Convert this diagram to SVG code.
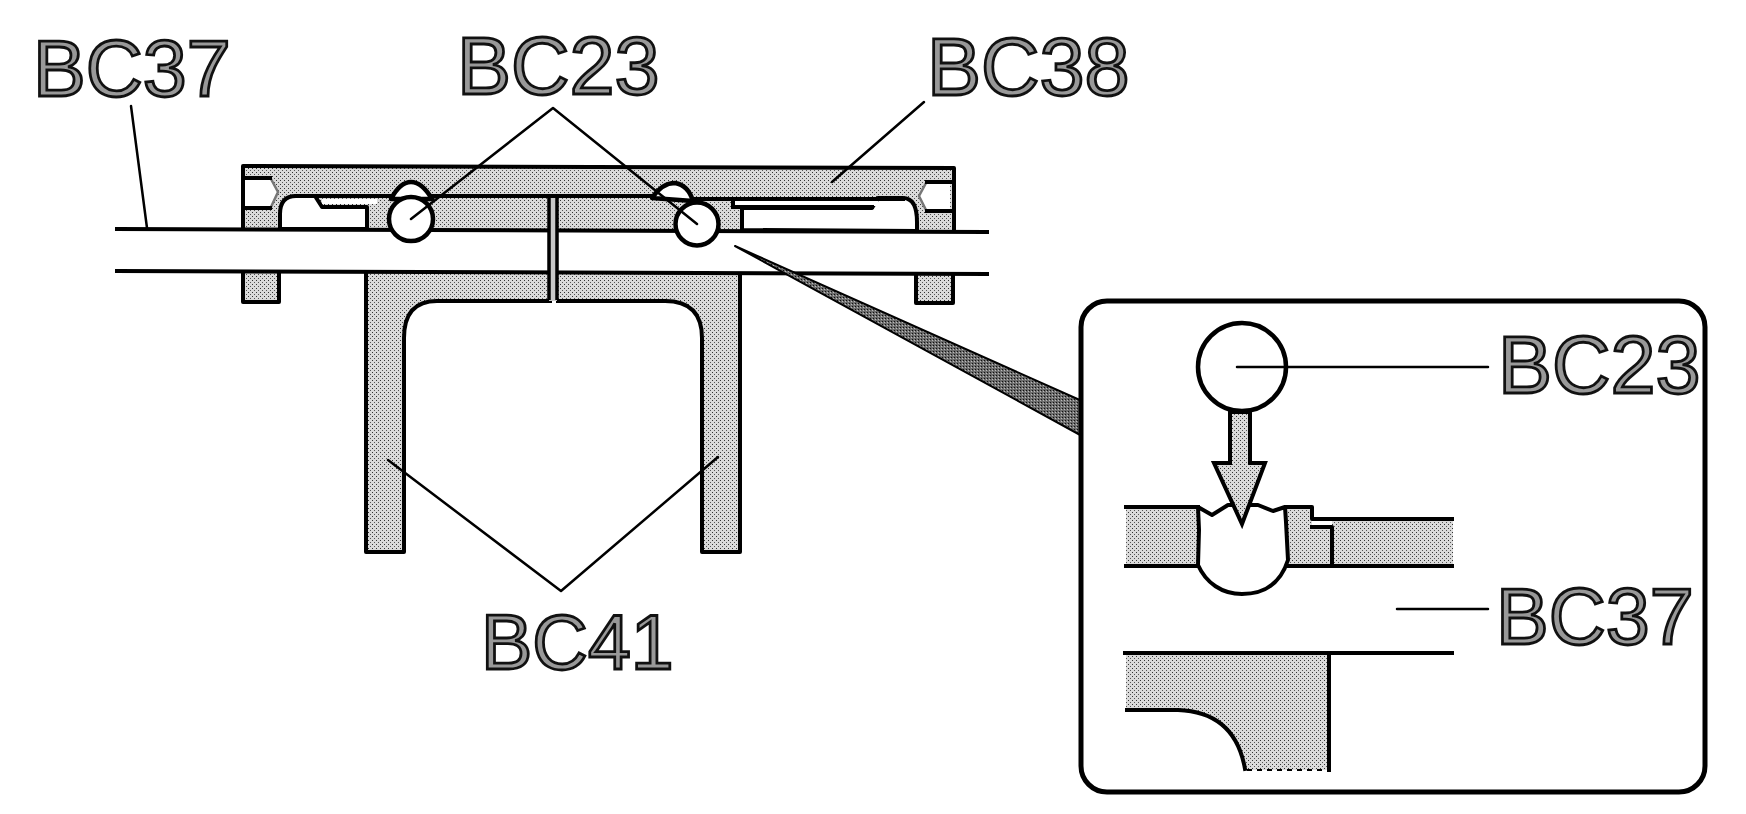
<svg xmlns="http://www.w3.org/2000/svg" width="1746" height="814" viewBox="0 0 1746 814">
<style>
.l{fill:none;stroke:#000;stroke-width:4;stroke-linecap:square;stroke-linejoin:round}
.s{fill:url(#st);stroke:none}
.w{fill:#fff;stroke:#000;stroke-width:4.5;stroke-linejoin:round}
.ld{fill:none;stroke:#000;stroke-width:2.5;stroke-linecap:round;stroke-linejoin:round}
.g{fill:none;stroke:#777;stroke-width:2.5;stroke-linejoin:round}
text{font-family:"Liberation Sans",Arial,sans-serif;font-size:79px;fill:#999;stroke:#111;stroke-width:2.8}
text.a{font-size:81px}
text.b{font-size:77px}
</style>
<defs>
<pattern id="st" width="4" height="4" patternUnits="userSpaceOnUse">
<rect width="4" height="4" fill="#dadada"/>
<rect x="0" y="0" width="1" height="1" fill="#333"/>
<rect x="2" y="2" width="1" height="1" fill="#555"/>
</pattern>
<pattern id="dk" width="3" height="3" patternUnits="userSpaceOnUse">
<rect width="3" height="3" fill="#6c6c6c"/>
<rect x="0" y="0" width="1" height="1" fill="#111"/>
<rect x="2" y="1" width="1" height="1" fill="#bbb"/>
</pattern>
</defs>
<rect width="1746" height="814" fill="#fff"/>

<g id="frame-BC41">
<path class="s" d="M366 273H740V552H702V338Q702 301 665 301H437Q404 301 404 338V552H366Z"/>
<path class="l" d="M366 273V552H404V338Q404 301 437 301H550M558 301H665Q702 301 702 338V552H740V273"/>
</g>

<g id="tabs">
<path class="s" d="M243 273H279V302H243Z"/>
<path class="l" d="M243 273V302H279V273"/>
<path class="s" d="M916 274H953V303H916Z"/>
<path class="l" d="M916 274V303H953V274"/>
</g>

<g id="plate-BC38">
<path class="s" d="M243 166L954 168V231L243 228Z"/>
<path class="l" d="M243 228V166L954 168V231"/>
<path d="M245 178H270L278 192L270 208H245Z" fill="#fff" stroke="none"/>
<path class="g" d="M271 179L278 192L271 207"/>
<path class="l" d="M245 178H270M245 208H270"/>
<path d="M950 182H927L919 196L927 211H950Z" fill="#fff" stroke="none"/>
<path class="g" d="M926 183L919 196L926 210"/>
<path class="l" d="M927 182H950M927 211H950"/>
<path d="M280 229V214Q280 196 296 196H315L322 207H367V229Z" fill="#fff" stroke="#000" stroke-width="4" stroke-linejoin="round"/>
<path d="M322 199H377V204H322Z" fill="#fff"/>
<path class="l" d="M296 196H650M694 199H738"/>
<path d="M742 230V208H872L878 198H903Q917 198 917 222V231Z" fill="#fff" stroke="#000" stroke-width="4" stroke-linejoin="round"/>
<path d="M735 200H878V206H735Z" fill="#fff"/>
<path class="l" d="M730 199H903M733 207H872M733 200V207"/>
</g>

<g id="rod-BC37">
<path d="M116 228L987 232V274L116 272Z" fill="#fff"/>
<path class="l" d="M117 229L987 232M117 271L987 274"/>
</g>

<g id="pin">
<rect x="549" y="198" width="8" height="103" fill="#c8c8c8"/>
<path d="M549 198V300M557 198V300" fill="none" stroke="#000" stroke-width="3.5"/>
</g>

<g id="balls-BC23">
<path class="w" d="M391 199Q400 182 411 182T432 199Z"/>
<circle class="w" cx="411" cy="219" r="22"/>
<path class="w" d="M652 198Q662 183 675 183Q688 185 693 201Z"/>
<circle class="w" cx="697" cy="224" r="21.5"/>
</g>

<g id="callout-wedge">
<path d="M735 246L1082 401V436Z" fill="url(#dk)" stroke="#000" stroke-width="2" stroke-linejoin="round"/>
</g>

<g id="connectors">
<path class="ld" d="M131 106L147 228"/>
<path class="ld" d="M411 219L553 108L697 224"/>
<path class="ld" d="M924 102L832 182"/>
<path class="ld" d="M388 460L561 591L718 457"/>
</g>

<g id="detail-box">
<rect x="1081" y="301" width="624" height="491" rx="26" ry="26" fill="#fff" stroke="#000" stroke-width="5"/>
</g>

<g id="detail-ball-BC23">
<circle cx="1242" cy="367" r="44" fill="#fff" stroke="#000" stroke-width="4.5"/>
</g>

<g id="detail-section">
<path class="s" d="M1126 507H1198V566H1126Z"/>
<path class="s" d="M1285 507H1312V520H1453V566H1285Z"/>
<path d="M1312 521H1332V526H1312Z" fill="#fff"/>
<path class="l" d="M1126 507H1198M1126 566H1198"/>
<path class="l" d="M1287 507H1312V519H1452M1312 527H1332V562M1287 566H1452"/>
<path d="M1198 507L1212 515L1228 505H1258L1273 511L1285 507L1286 522L1288 560C1280 585 1262 594 1242 594C1222 594 1206 583 1198 565L1199 530Z" fill="#fff" stroke="#000" stroke-width="4" stroke-linejoin="round"/>
</g>

<g id="detail-arrow">
<path d="M1230 412H1250V463H1265L1242 524L1214 463H1230Z" fill="url(#st)" stroke="#000" stroke-width="4" stroke-linejoin="miter"/>
</g>

<g id="detail-frame">
<path class="s" d="M1126 654H1329V770H1245Q1235 710 1178 710H1126Z"/>
<path class="l" d="M1125 653H1452M1329 654V770M1127 710H1178Q1235 712 1245 769"/>
<path d="M1247 770H1329" fill="none" stroke="#000" stroke-width="2" stroke-dasharray="5 5"/>
</g>

<g id="detail-connectors">
<path class="ld" d="M1237 367H1488"/>
<path class="ld" d="M1397 609H1488"/>
</g>

<g id="labels">
<text x="33" y="96">BC37</text>
<text class="a" x="457" y="94">BC23</text>
<text class="a" x="927" y="95">BC38</text>
<text class="b" x="481" y="669">BC41</text>
<text class="a" x="1498" y="393">BC23</text>
<text x="1496" y="644">BC37</text>
</g>
</svg>
